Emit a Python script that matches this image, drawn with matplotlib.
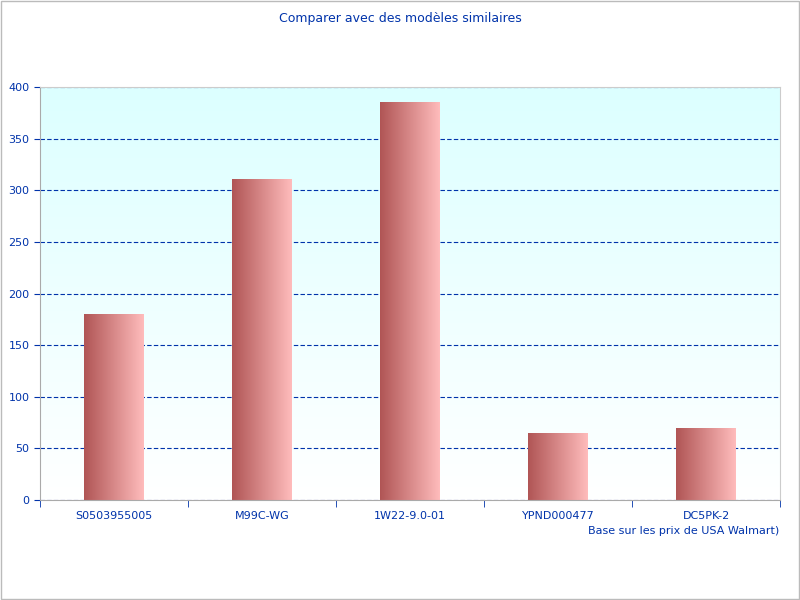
import matplotlib
matplotlib.use("Agg")
import matplotlib.pyplot as plt
import numpy as np
from matplotlib.colors import LinearSegmentedColormap
from matplotlib.patches import Rectangle

categories = ["S0503955005", "M99C-WG", "1W22-9.0-01", "YPND000477", "DC5PK-2"]
values = [180, 310, 385, 64, 69]

blue = "#0033aa"
fig = plt.figure(figsize=(8, 6), dpi=100)
fig.patches.append(Rectangle((0.001, 0.001), 0.998, 0.998, transform=fig.transFigure,
                             fill=False, edgecolor="#bbbbbb", lw=1))
ax = fig.add_axes([40/800, 100/600, 740/800, 413/600])
ax.set_xlim(0, 5)
ax.set_ylim(0, 400)

# background gradient
bg = LinearSegmentedColormap.from_list("bg", ["#ffffff", "#dcffff"])
ax.imshow(np.linspace(0, 1, 256).reshape(-1, 1), cmap=bg, origin="lower",
          extent=[0, 5, 0, 400], aspect="auto", zorder=0)

ax.yaxis.grid(True, linestyle=(0, (4, 2)), color=blue, lw=0.8, zorder=1)
ax.set_axisbelow(True)

barcm = LinearSegmentedColormap.from_list("bar", ["#b05555", "#ffbcbc"])
grad = np.linspace(0, 1, 256).reshape(1, -1)
w = 0.4
for i, v in enumerate(values):
    x0 = i + 0.5 - w/2
    ax.imshow(grad, cmap=barcm, extent=[x0, x0 + w, 0, v], aspect="auto", zorder=2)
ax.set_xlim(0, 5)
ax.set_ylim(0, 400)

ax.set_xticks([i + 0.5 for i in range(5)])
ax.set_xticklabels(categories)
ax.set_xticks(range(6), minor=True)
ax.tick_params(axis="x", which="major", length=0, colors=blue, labelsize=8, pad=8)
ax.tick_params(axis="x", which="minor", length=5, color=blue)
ax.set_yticks(range(0, 401, 50))
ax.tick_params(axis="y", colors=blue, labelsize=8, length=4)
for s in ["top", "right"]:
    ax.spines[s].set_color("#cccccc")
for s in ["left", "bottom"]:
    ax.spines[s].set_color("#aaaaaa")

fig.text(0.5, 0.98, "Comparer avec des modèles similaires", ha="center", va="top",
         color=blue, fontsize=9)
fig.text(779/800, 1 - 531/600, "Base sur les prix de USA Walmart)", ha="right", va="center",
         color=blue, fontsize=8)
fig.savefig("out.png")
